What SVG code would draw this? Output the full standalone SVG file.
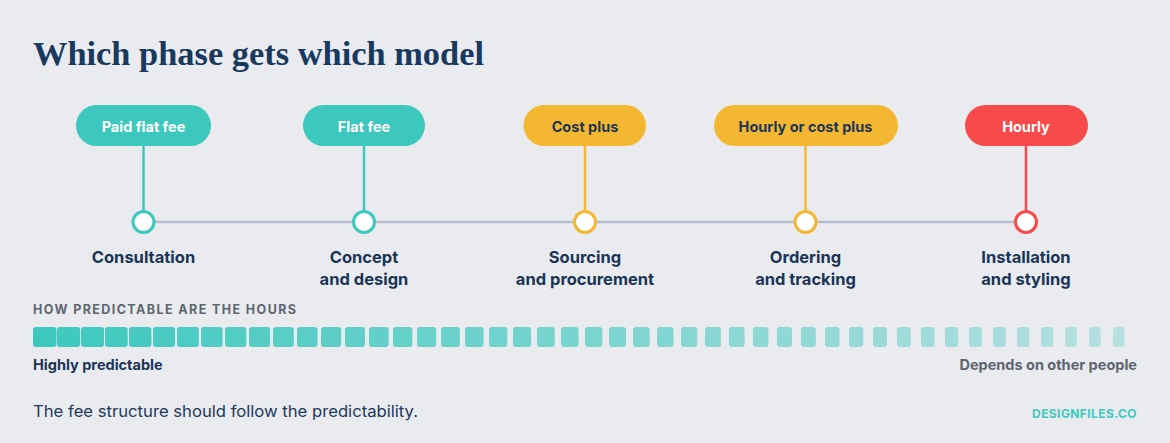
<svg xmlns="http://www.w3.org/2000/svg" width="1170" height="443" viewBox="0 0 1170 443">
<style>
.title{font-family:"Liberation Serif","DejaVu Serif",serif;font-weight:700;font-size:33px;fill:#173a5e}
.pill-t{font-family:Inter,"Liberation Sans",sans-serif;font-weight:700;font-size:14.5px;text-anchor:middle}
.lbl{font-family:Inter,"Liberation Sans",sans-serif;font-weight:700;font-size:16.5px;fill:#1b3556;text-anchor:middle}
.cap{font-family:Inter,"Liberation Sans",sans-serif;font-weight:700;font-size:12.5px;fill:#5f6670}
.end{font-family:Inter,"Liberation Sans",sans-serif;font-weight:700;font-size:14.5px}
.foot{font-family:Inter,"Liberation Sans",sans-serif;font-weight:400;font-size:16px;fill:#22395a}
.brand{font-family:Inter,"Liberation Sans",sans-serif;font-weight:700;font-size:12px;fill:#3ec8be;text-anchor:end}
.dot{fill:#ffffff;stroke-width:3}
.stem{stroke-width:2.5}
.seg{fill:#3cc8bd}
</style>
<rect width="1170" height="443" fill="#e9ebef"/>
<text class="title" x="33" y="65" textLength="451" lengthAdjust="spacingAndGlyphs">Which phase gets which model</text>

<g id="connectors">
<line x1="143.5" y1="222" x2="1026" y2="222" stroke="#b6bdca" stroke-width="2.5"/>
<line class="stem" x1="143.5" y1="146" x2="143.5" y2="211" stroke="#3cc8bd"/>
<line class="stem" x1="364" y1="146" x2="364" y2="211" stroke="#3cc8bd"/>
<line class="stem" x1="585" y1="146" x2="585" y2="211" stroke="#f4b731"/>
<line class="stem" x1="805.5" y1="146" x2="805.5" y2="211" stroke="#f4b731"/>
<line class="stem" x1="1026" y1="146" x2="1026" y2="211" stroke="#f74a4a"/>
</g>

<g id="consultation">
<rect x="76" y="105" width="135" height="41" rx="20.5" fill="#3cc8bd"/>
<text class="pill-t" x="143.5" y="131.5" fill="#ffffff">Paid flat fee</text>
<circle class="dot" cx="143.5" cy="222" r="10.5" stroke="#3cc8bd"/>
<text class="lbl" x="143.5" y="263">Consultation</text>
</g>

<g id="concept">
<rect x="303" y="105" width="122" height="41" rx="20.5" fill="#3cc8bd"/>
<text class="pill-t" x="364" y="131.5" fill="#ffffff">Flat fee</text>
<circle class="dot" cx="364" cy="222" r="10.5" stroke="#3cc8bd"/>
<text class="lbl" x="364" y="263">Concept</text>
<text class="lbl" x="364" y="285">and design</text>
</g>

<g id="sourcing">
<rect x="523.5" y="105" width="122.5" height="41" rx="20.5" fill="#f4b731"/>
<text class="pill-t" x="585" y="131.5" fill="#1b3556">Cost plus</text>
<circle class="dot" cx="585" cy="222" r="10.5" stroke="#f4b731"/>
<text class="lbl" x="585" y="263">Sourcing</text>
<text class="lbl" x="585" y="285">and procurement</text>
</g>

<g id="ordering">
<rect x="714" y="105" width="184" height="41" rx="20.5" fill="#f4b731"/>
<text class="pill-t" x="805.5" y="131.5" fill="#1b3556">Hourly or cost plus</text>
<circle class="dot" cx="805.5" cy="222" r="10.5" stroke="#f4b731"/>
<text class="lbl" x="805.5" y="263">Ordering</text>
<text class="lbl" x="805.5" y="285">and tracking</text>
</g>

<g id="installation">
<rect x="965" y="105" width="123" height="41" rx="20.5" fill="#f74a4a"/>
<text class="pill-t" x="1026" y="131.5" fill="#ffffff">Hourly</text>
<circle class="dot" cx="1026" cy="222" r="10.5" stroke="#f74a4a"/>
<text class="lbl" x="1026" y="263">Installation</text>
<text class="lbl" x="1026" y="285">and styling</text>
</g>

<g id="predictability">
<text class="cap" x="33" y="314" textLength="263" lengthAdjust="spacing">HOW PREDICTABLE ARE THE HOURS</text>
<g class="seg">
<rect x="33" y="327" width="23.5" height="20" rx="3" opacity="1"/>
<rect x="57" y="327" width="23.2" height="20" rx="3" opacity="0.98"/>
<rect x="81" y="327" width="23" height="20" rx="3" opacity="0.97"/>
<rect x="105" y="327" width="22.7" height="20" rx="3" opacity="0.95"/>
<rect x="129" y="327" width="22.4" height="20" rx="3" opacity="0.94"/>
<rect x="153" y="327" width="22.1" height="20" rx="3" opacity="0.92"/>
<rect x="177" y="327" width="21.9" height="20" rx="3" opacity="0.91"/>
<rect x="201" y="327" width="21.6" height="20" rx="3" opacity="0.89"/>
<rect x="225" y="327" width="21.3" height="20" rx="3" opacity="0.88"/>
<rect x="249" y="327" width="21.1" height="20" rx="3" opacity="0.86"/>
<rect x="273" y="327" width="20.8" height="20" rx="3" opacity="0.84"/>
<rect x="297" y="327" width="20.5" height="20" rx="3" opacity="0.83"/>
<rect x="321" y="327" width="20.2" height="20" rx="3" opacity="0.81"/>
<rect x="345" y="327" width="20" height="20" rx="3" opacity="0.80"/>
<rect x="369" y="327" width="19.7" height="20" rx="3" opacity="0.78"/>
<rect x="393" y="327" width="19.4" height="20" rx="3" opacity="0.77"/>
<rect x="417" y="327" width="19.2" height="20" rx="3" opacity="0.75"/>
<rect x="441" y="327" width="18.9" height="20" rx="3" opacity="0.74"/>
<rect x="465" y="327" width="18.6" height="20" rx="3" opacity="0.72"/>
<rect x="489" y="327" width="18.3" height="20" rx="3" opacity="0.70"/>
<rect x="513" y="327" width="18.1" height="20" rx="3" opacity="0.69"/>
<rect x="537" y="327" width="17.8" height="20" rx="3" opacity="0.67"/>
<rect x="561" y="327" width="17.5" height="20" rx="3" opacity="0.66"/>
<rect x="585" y="327" width="17.3" height="20" rx="3" opacity="0.64"/>
<rect x="609" y="327" width="17" height="20" rx="3" opacity="0.63"/>
<rect x="633" y="327" width="16.7" height="20" rx="3" opacity="0.61"/>
<rect x="657" y="327" width="16.5" height="20" rx="3" opacity="0.60"/>
<rect x="681" y="327" width="16.2" height="20" rx="3" opacity="0.58"/>
<rect x="705" y="327" width="15.9" height="20" rx="3" opacity="0.56"/>
<rect x="729" y="327" width="15.6" height="20" rx="3" opacity="0.55"/>
<rect x="753" y="327" width="15.4" height="20" rx="3" opacity="0.53"/>
<rect x="777" y="327" width="15.1" height="20" rx="3" opacity="0.52"/>
<rect x="801" y="327" width="14.8" height="20" rx="3" opacity="0.50"/>
<rect x="825" y="327" width="14.6" height="20" rx="3" opacity="0.49"/>
<rect x="849" y="327" width="14.3" height="20" rx="3" opacity="0.47"/>
<rect x="873" y="327" width="14" height="20" rx="3" opacity="0.46"/>
<rect x="897" y="327" width="13.7" height="20" rx="3" opacity="0.44"/>
<rect x="921" y="327" width="13.5" height="20" rx="3" opacity="0.42"/>
<rect x="945" y="327" width="13.2" height="20" rx="3" opacity="0.41"/>
<rect x="969" y="327" width="12.9" height="20" rx="3" opacity="0.39"/>
<rect x="993" y="327" width="12.7" height="20" rx="3" opacity="0.38"/>
<rect x="1017" y="327" width="12.4" height="20" rx="3" opacity="0.36"/>
<rect x="1041" y="327" width="12.1" height="20" rx="3" opacity="0.35"/>
<rect x="1065" y="327" width="11.8" height="20" rx="3" opacity="0.33"/>
<rect x="1089" y="327" width="11.6" height="20" rx="3" opacity="0.32"/>
<rect x="1113" y="327" width="11.3" height="20" rx="3" opacity="0.30"/>
</g>
<text class="end" x="33" y="370" fill="#1b3556">Highly predictable</text>
<text class="end" x="1137" y="370" fill="#5d6472" text-anchor="end">Depends on other people</text>
</g>

<text class="foot" x="33" y="417" textLength="385" lengthAdjust="spacingAndGlyphs">The fee structure should follow the predictability.</text>
<text class="brand" x="1137" y="418" letter-spacing="0.4">DESIGNFILES.CO</text>
</svg>
